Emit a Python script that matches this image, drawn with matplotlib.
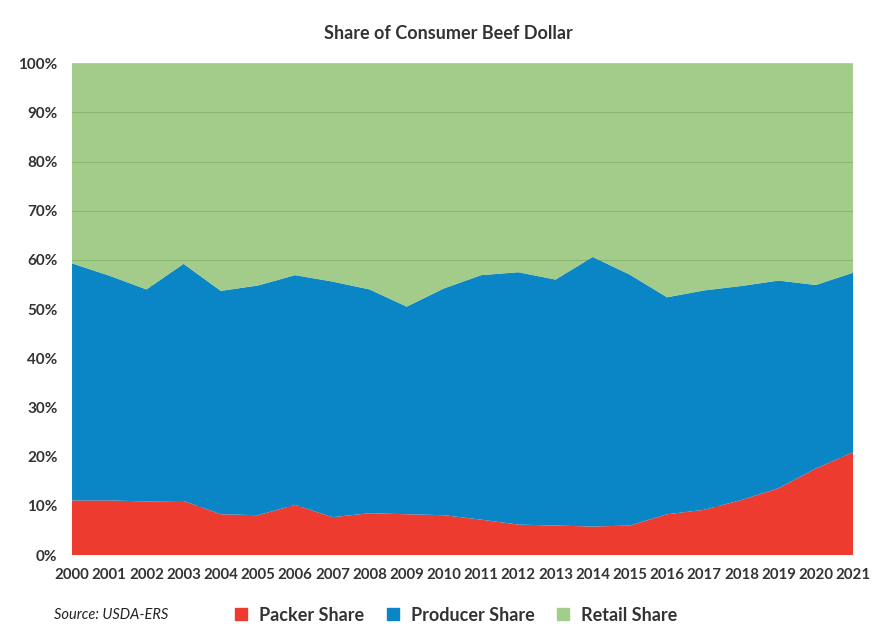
import matplotlib.pyplot as plt
from matplotlib.lines import Line2D

plt.rcParams['font.family'] = ['Lato', 'DejaVu Sans']

years = list(range(2000, 2022))
packer = [11.1, 11.1, 10.9, 11.0, 8.3, 8.1, 10.2, 7.7, 8.5, 8.3, 8.1,
          7.2, 6.2, 6.0, 5.8, 6.0, 8.3, 9.2, 11.2, 13.6, 17.6, 20.9]
producer = [48.2, 45.7, 43.1, 48.2, 45.4, 46.7, 46.7, 47.9, 45.5, 42.2, 46.1,
            49.7, 51.3, 50.0, 54.8, 51.0, 44.1, 44.6, 43.5, 42.2, 37.3, 36.5]
retail = [40.7, 43.2, 46.0, 40.8, 46.3, 45.2, 43.1, 44.4, 46.0, 49.5, 45.8,
          43.1, 42.5, 44.0, 39.4, 43.0, 47.6, 46.2, 45.3, 44.2, 45.1, 42.6]
labels = ['Packer Share', 'Producer Share', 'Retail Share']
colors = ['#EE3B2F', '#0A86C7', '#A3CD8B']

fig = plt.figure(figsize=(8.74, 6.38), dpi=100)
ax = fig.add_axes([0.0824, 0.130, 0.8936, 0.771])

# gridlines sit behind the areas; the retail area is slightly see-through
# so they only show in the green band, like the original
for v in range(10, 100, 10):
    ax.axhline(v, color='#5f7a52', linewidth=0.9, zorder=0)
polys = ax.stackplot(years, packer, producer, retail,
                     colors=['#EE3B2F', '#0A86C7', '#93C476'], linewidth=0, zorder=1)
polys[2].set_alpha(0.85)

ax.set_xlim(2000, 2021)
ax.set_ylim(0, 100)
ax.set_xticks(years)
ax.set_xticklabels([str(y) for y in years], fontsize=10.8, fontweight='bold', color='#333333')
ax.set_yticks(range(0, 101, 10))
ax.set_yticklabels([f'{v}%' for v in range(0, 101, 10)], fontsize=11, fontweight='bold', color='#333333')
ax.tick_params(length=0)
ax.tick_params(axis='y', pad=10.5)
ax.tick_params(axis='x', pad=9)
for s in ax.spines.values():
    s.set_visible(False)

fig.text(0.513, 0.948, 'Share of Consumer Beef Dollar', ha='center', va='center',
         fontsize=13, fontweight='bold', color='#333333')

fig.text(0.062, 0.036, 'Source: USDA-ERS', ha='left', va='center',
         fontsize=10.5, style='italic', color='#222222')

handles = [Line2D([], [], marker='s', linestyle='', markersize=8, color=c) for c in colors]
fig.legend(handles, labels, loc='center', bbox_to_anchor=(0.515, 0.036), ncol=3,
           frameon=False, handletextpad=0.0, columnspacing=0.6,
           labelcolor='#333333', prop={'weight': 'bold', 'size': 13})

fig.savefig('out.png', dpi=100, facecolor='white')
